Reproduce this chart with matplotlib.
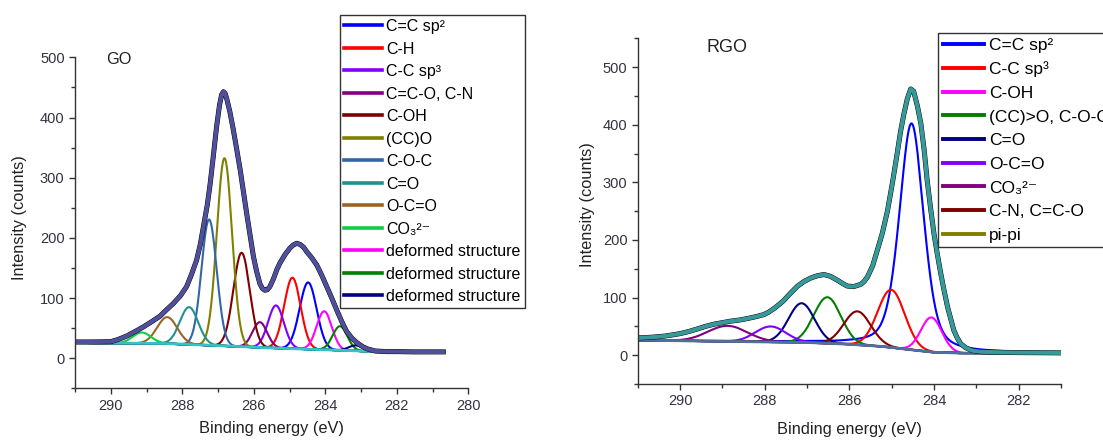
import numpy as np
import matplotlib.pyplot as plt
from matplotlib.ticker import MultipleLocator

plt.rcParams['font.family'] = ['Liberation Sans', 'DejaVu Sans']

## GO: C1s envelope (binding energy, counts)
go_env_e = [291.0, 290.5, 290.0, 289.8, 289.55, 289.3, 289.09, 288.85, 288.62, 288.45,
            288.25, 288.05, 287.88, 287.75, 287.6, 287.5, 287.41, 287.3, 287.22, 287.13,
            287.04, 286.96, 286.9, 286.85, 286.8, 286.76, 286.67, 286.57, 286.48, 286.38,
            286.29, 286.2, 286.1, 286.01, 285.92, 285.83, 285.76, 285.69, 285.62, 285.55,
            285.45, 285.35, 285.27, 285.13, 284.99, 284.9, 284.8, 284.7, 284.6, 284.52,
            284.38, 284.24, 284.1, 283.96, 283.82, 283.68, 283.54, 283.4, 283.25, 283.12,
            282.95, 282.8, 282.6, 282.3, 282.0, 281.5, 280.7]
go_env_c = [27, 27, 27.5, 31, 37, 45, 52, 61, 70, 80,
            91, 104, 119, 138, 163, 188, 218, 255, 290, 337,
            385, 420, 438, 443, 440, 432, 410, 379, 348, 313,
            277, 241, 203, 169, 144, 124, 116, 113, 114, 119,
            132, 148, 158, 172, 183, 188, 191, 189, 184, 177,
            167, 155, 138, 119, 100, 80, 61, 44, 33, 26,
            19, 15, 12, 11, 11, 10.5, 10.5]

# GO background
go_bg_e = [291.0, 288.5, 287.0, 285.5, 284.0, 283.0, 282.5, 280.7]
go_bg_c = [25.5, 24.5, 21, 17, 14, 12, 10.5, 10.5]

# GO components: label, centre (eV), height above background, FWHM (eV)
go_labels = ['C=C sp²', 'C-H', 'C-C sp³', 'C=C-O, C-N', 'C-OH', '(CC)O', 'C-O-C',
             'C=O', 'O-C=O', 'CO₃²⁻', 'deformed structure', 'deformed structure',
             'deformed structure']
go_center = [284.48, 284.92, 285.38, 285.83, 286.34, 286.82, 287.25, 287.81, 288.42, 289.13,
             284.03, 283.59, 283.15]
go_height = [111, 118, 71, 42, 156, 312, 209, 62, 44, 18, 64, 40, 9]
go_fwhm = [0.56, 0.54, 0.52, 0.48, 0.54, 0.5, 0.5, 0.6, 0.66, 0.6, 0.5, 0.48, 0.46]
go_colors = ['#0000ff', '#ff0000', '#8000ff', '#800080', '#800000', '#808000', '#3366a8',
             '#229090', '#9a6428', '#11cc44', '#ff00ff', '#008000', '#000080']

## RGO
rgo_env_e = [291.01, 290.7, 290.38, 290.2, 289.99, 289.8, 289.59, 289.4, 289.2, 289.0,
             288.81, 288.6, 288.41, 288.2, 288.02, 287.9, 287.78, 287.66, 287.55, 287.4,
             287.23, 287.07, 286.91, 286.75, 286.6, 286.45, 286.28, 286.15, 286.05, 285.9,
             285.73, 285.65, 285.57, 285.45, 285.34, 285.22, 285.1, 284.98, 284.87, 284.79,
             284.71, 284.63, 284.55, 284.48, 284.39, 284.31, 284.23, 284.16, 284.08, 284.0,
             283.92, 283.84, 283.76, 283.68, 283.6, 283.53, 283.45, 283.37, 283.25, 283.1,
             282.9, 282.5, 282.0, 281.0]
rgo_env_c = [30, 31, 33, 35, 37.6, 41, 45.6, 50, 53.8, 56.5,
             59, 61, 63.6, 67, 70.5, 75, 81, 88, 95, 107,
             119.6, 128, 134, 138, 140, 137, 130, 124, 120, 119,
             123, 128, 136, 155, 182, 212, 250, 300, 350, 388,
             419, 445, 462, 458, 432, 402, 355, 303, 255, 211,
             175, 142, 112, 84, 62, 43, 30, 20, 13, 8,
             6, 5, 4.5, 4]

rgo_bg_e = [291.0, 289.0, 287.0, 286.0, 285.2, 284.5, 284.0, 283.3, 281.0]
rgo_bg_c = [26, 24, 22, 19, 15, 9, 5, 3.5, 3.5]

rgo_labels = ['C=C sp²', 'C-C sp³', 'C-OH', '(CC)>O, C-O-C', 'C=O', 'O-C=O',
              'CO₃²⁻', 'C-N, C=C-O', 'pi-pi']
rgo_center = [284.53, 285.01, 284.06, 286.52, 287.13, 287.86, 288.88, 285.81, 290.6]
rgo_height = [393, 100, 60, 80, 68, 27, 27, 58, 1]
rgo_fwhm = [0.68, 0.75, 0.58, 0.75, 0.72, 0.85, 1.1, 0.75, 0.6]
rgo_eta = [0.4, 0, 0, 0, 0, 0, 0, 0, 0]    # lorentzian fraction
rgo_colors = ['#0000ff', '#ff0000', '#ff00ff', '#008000', '#000080', '#8000ff', '#800080',
              '#800000', '#808000']


def peak(x, c, h, w, eta=0.0):
    g = np.exp(-4 * np.log(2) * ((x - c) / w) ** 2)
    l = 1 / (1 + 4 * ((x - c) / w) ** 2)
    return h * ((1 - eta) * g + eta * l)


def style_axes(ax):
    ax.spines['top'].set_visible(False)
    ax.spines['right'].set_visible(False)
    for s in ['left', 'bottom']:
        ax.spines[s].set_color('#333333')
        ax.spines[s].set_linewidth(1.0)
    ax.yaxis.set_major_locator(MultipleLocator(100))
    ax.yaxis.set_minor_locator(MultipleLocator(50))
    ax.xaxis.set_major_locator(MultipleLocator(2))
    ax.xaxis.set_minor_locator(MultipleLocator(1))
    ax.tick_params(which='both', direction='out', color='#333333', labelcolor='#333340',
                   labelsize=10.5, pad=3)
    ax.tick_params(which='major', length=4.5, width=1)
    ax.tick_params(which='minor', length=3, width=1)


fig = plt.figure(figsize=(11.03, 4.4), dpi=100)

## GO panel
ax1 = fig.add_axes([0.068, 0.1175, 0.3566, 0.752])
x = np.linspace(280.7, 291, 1500)
bg = np.interp(x, go_bg_e[::-1], go_bg_c[::-1])
lines = []
for lab, c, h, w, col in zip(go_labels, go_center, go_height, go_fwhm, go_colors):
    ln, = ax1.plot(x, bg + peak(x, c, h, w), color=col, lw=1.5, label=lab)
    lines.append(ln)
ax1.plot(go_bg_e, go_bg_c, color='#33c4c4', lw=2)
ax1.plot(go_env_e, go_env_c, color='black', lw=3.6, solid_joinstyle='round')
ax1.plot(go_env_e, go_env_c, color='#4f4f9c', lw=3, solid_joinstyle='round')
ax1.set_xlim(291, 280)
ax1.set_ylim(-50, 500)
style_axes(ax1)
ax1.set_xlabel('Binding energy (eV)', fontsize=11.8, color='#222222')
ax1.set_ylabel('Intensity (counts)', fontsize=11.8, color='#222222')
ax1.xaxis.set_label_coords(0.5, -0.099)
ax1.yaxis.set_label_coords(-0.1226, 0.517)
ax1.text(0.112, 0.995, 'GO', transform=ax1.transAxes, ha='center', va='center',
         fontsize=11.8, color='#222222')
leg1 = ax1.legend(handles=lines, loc='upper left', bbox_to_anchor=(0.3082, 0.9659),
                  bbox_transform=fig.transFigure, borderaxespad=0, fontsize=11.5,
                  handlelength=2.36, handletextpad=0.3, labelspacing=0.47, borderpad=0.25,
                  fancybox=False, framealpha=1, edgecolor='#333333')
leg1.get_frame().set_linewidth(1.0)
for l in leg1.get_lines():
    l.set_linewidth(2.6)

## RGO panel
ax2 = fig.add_axes([0.5783, 0.1273, 0.3835, 0.7857])
x = np.linspace(281, 291, 1500)
bg = np.interp(x, rgo_bg_e[::-1], rgo_bg_c[::-1])
lines = []
for lab, c, h, w, eta, col in zip(rgo_labels, rgo_center, rgo_height, rgo_fwhm, rgo_eta,
                                  rgo_colors):
    ln, = ax2.plot(x, bg + peak(x, c, h, w, eta), color=col, lw=1.5, label=lab)
    lines.append(ln)
ax2.plot(rgo_bg_e, rgo_bg_c, color='#4f6f9f', lw=2)
ax2.plot(rgo_env_e, rgo_env_c, color='black', lw=3.6, solid_joinstyle='round')
ax2.plot(rgo_env_e, rgo_env_c, color='#369a9a', lw=3, solid_joinstyle='round')
ax2.set_xlim(291, 281)
ax2.set_ylim(-50, 550)
style_axes(ax2)
ax2.set_xlabel('Binding energy (eV)', fontsize=11.8, color='#222222')
ax2.set_ylabel('Intensity (counts)', fontsize=11.8, color='#222222')
ax2.xaxis.set_label_coords(0.5, -0.109)
ax2.yaxis.set_label_coords(-0.102, 0.52)
ax2.text(0.211, 0.972, 'RGO', transform=ax2.transAxes, ha='center', va='center',
         fontsize=13, color='#222222')
leg2 = ax2.legend(handles=lines, loc='upper left', bbox_to_anchor=(0.8507, 0.9243),
                  bbox_transform=fig.transFigure, borderaxespad=0, fontsize=12.5,
                  handlelength=2.4, handletextpad=0.25, labelspacing=0.49, borderpad=0.25,
                  fancybox=False, framealpha=1, edgecolor='#333333')
leg2.get_frame().set_linewidth(1.0)
for l in leg2.get_lines():
    l.set_linewidth(2.8)

plt.savefig('out.png', dpi=100)
